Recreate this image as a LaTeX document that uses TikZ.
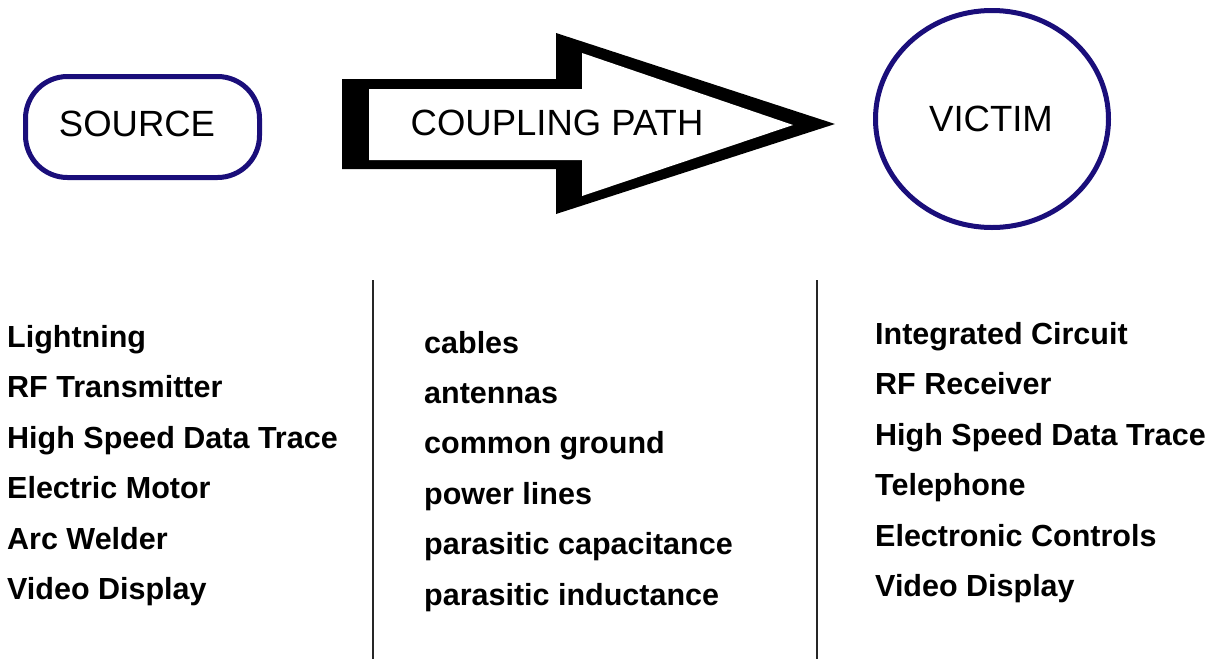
\documentclass[tikz,border=0pt]{standalone}
\usepackage{fontspec}
\setmainfont{Liberation Sans}
\definecolor{navy}{RGB}{26,14,122}
\begin{document}
\begin{tikzpicture}[x=1pt,y=-1pt,
  head/.style={font=\fontsize{36.5}{40}\selectfont, inner sep=0pt, anchor=base},
  item/.style={font=\fontsize{30.5}{34}\selectfont\bfseries, inner sep=0pt, anchor=base west},
  sep/.style={line width=1.4pt, black!85}]
\useasboundingbox (0,0) rectangle (1213,659);
% Source
\draw[navy, line width=5pt, rounded corners=42pt] (25.5,76.5) rectangle (259.5,177.5);
\node[head] (source) at (137,136.5) {SOURCE};
% Coupling path arrow
\fill[black] (342,79) -- (556,79) -- (556,33) -- (835,124) -- (556,214) -- (556,169) -- (342,169) -- cycle;
\fill[white] (369,89) -- (582,89) -- (582,53) -- (793,125) -- (582,196) -- (582,160) -- (369,160) -- cycle;
\node[head] (path) at (557,135) {COUPLING PATH};
% Victim
\draw[navy, line width=5pt] (992,119) ellipse [x radius=116.5, y radius=108.5];
\node[head] (victim) at (991,131.5) {VICTIM};
% Separators
\coordinate (l1t) at (373,280); \coordinate (l1b) at (373,659);
\coordinate (l2t) at (817,280); \coordinate (l2b) at (817,659);
\draw[sep] (l1t) -- (l1b);
\draw[sep] (l2t) -- (l2b);
% Source list
\node[item] (a1) at (7,347) {Lightning};
\node[item] (a2) at (7,397.5) {RF Transmitter};
\node[item] (a3) at (7,448) {High Speed Data Trace};
\node[item] (a4) at (7,498.5) {Electric Motor};
\node[item] (a5) at (7,549) {Arc Welder};
\node[item] (a6) at (7,599.5) {Video Display};
% Coupling list
\node[item] (b1) at (424,353) {cables};
\node[item] (b2) at (424,403) {antennas};
\node[item] (b3) at (424,453.5) {common ground};
\node[item] (b4) at (424,504) {power lines};
\node[item] (b5) at (424,554.5) {parasitic capacitance};
\node[item] (b6) at (424,605) {parasitic inductance};
% Victim list
\node[item] (c1) at (875,344) {Integrated Circuit};
\node[item] (c2) at (875,394.5) {RF Receiver};
\node[item] (c3) at (875,445) {High Speed Data Trace};
\node[item] (c4) at (875,495.5) {Telephone};
\node[item] (c5) at (875,546) {Electronic Controls};
\node[item] (c6) at (875,596.5) {Video Display};
\end{tikzpicture}
\end{document}
